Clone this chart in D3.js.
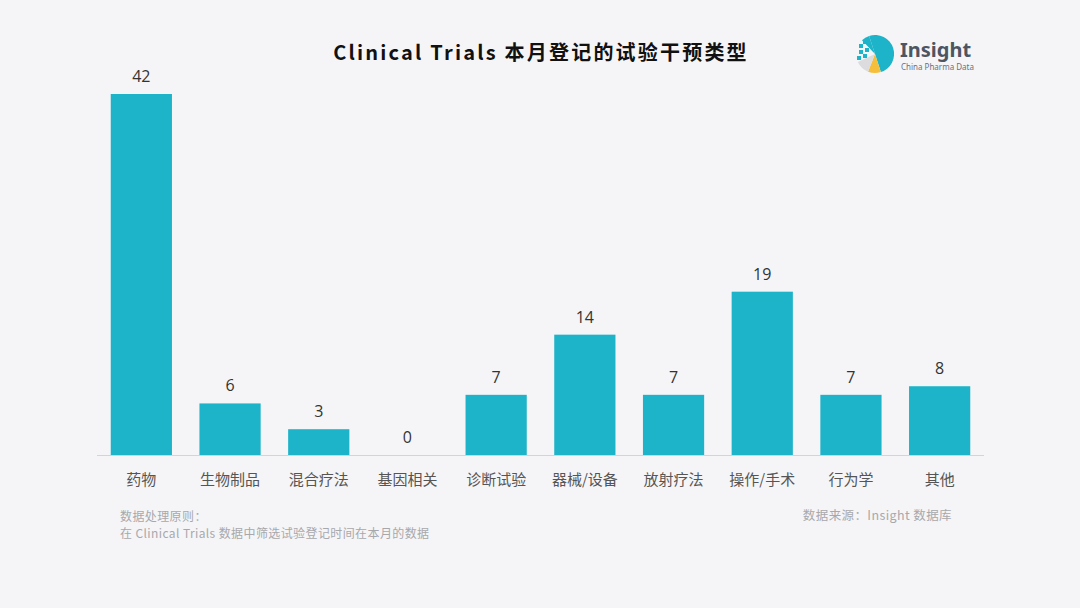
<!DOCTYPE html>
<html><head><meta charset="utf-8">
<script src="https://cdn.jsdelivr.net/npm/d3@7/dist/d3.min.js"></script>
<style>
html,body{margin:0;padding:0;background:#f5f5f7;}
svg{display:block;font-family:"Noto Sans CJK SC","Noto Sans",sans-serif;}
</style></head>
<body>
<svg id="chart" width="1080" height="608"></svg>
<script>
const categories = ["药物","生物制品","混合疗法","基因相关","诊断试验","器械/设备","放射疗法","操作/手术","行为学","其他"];
const values = [42,6,3,0,7,14,7,19,7,8];
const title = "Clinical Trials 本月登记的试验干预类型";
const noteLines = ["数据处理原则：","在 Clinical Trials 数据中筛选试验登记时间在本月的数据"];
const sourceText = "数据来源：Insight 数据库";

const svg = d3.select("#chart");
svg.append("rect").attr("width",1080).attr("height",608).attr("fill","#f5f5f7");

const x = d3.scaleBand().domain(categories).range([97,984]).paddingInner(0.31).paddingOuter(0.155);
const y = d3.scaleLinear().domain([0,42]).range([455,94]);

svg.append("text").attr("x",541).attr("y",60).attr("text-anchor","middle")
  .attr("font-size",20).attr("font-weight","bold").attr("fill","#111")
  .attr("letter-spacing","2.2px").text(title);

svg.selectAll("rect.bar").data(values).join("rect").attr("class","bar")
  .attr("x",(d,i)=>x(categories[i])).attr("width",x.bandwidth())
  .attr("y",d=>y(d)).attr("height",d=>y(0)-y(d)).attr("fill","#1db3c8");

svg.selectAll("text.val").data(values).join("text").attr("class","val")
  .attr("x",(d,i)=>x(categories[i])+x.bandwidth()/2).attr("y",d=>y(d)-12)
  .attr("text-anchor","middle").attr("font-size",16).attr("fill","#333")
  .attr("font-family","'Open Sans',sans-serif").text(d=>d);

const axis = svg.append("g").attr("transform","translate(0,455)")
  .call(d3.axisBottom(x).tickSize(0).tickPadding(19));
axis.select(".domain").attr("stroke","#d4d4d8").attr("d","M97,0.5H984");
axis.selectAll("text").attr("font-size",15).attr("fill","#555")
  .attr("font-family","'Noto Sans CJK SC',sans-serif");

const note = svg.append("text").attr("font-size",12).attr("fill","#a8a8ac").attr("letter-spacing","0.4px");
noteLines.forEach((t,i)=>note.append("tspan").attr("x",120).attr("y",521+i*17).text(t));
svg.append("text").attr("x",952).attr("y",520).attr("text-anchor","end")
  .attr("font-size",12.5).attr("fill","#a8a8ac").attr("letter-spacing","0.4px").text(sourceText);

// logo
const lg = svg.append("g").attr("transform","translate(875,54)");
const arc = d3.arc().innerRadius(0).outerRadius(19);
const tau = Math.PI*2;
lg.append("path").attr("d",arc({startAngle:-0.05*tau,endAngle:0.45*tau})).attr("fill","#1db3c8");
lg.append("path").attr("d",arc({startAngle:-0.12*tau,endAngle:-0.05*tau})).attr("fill","#1db3c8");
lg.append("path").attr("d",arc({startAngle:0.45*tau,endAngle:0.56*tau})).attr("fill","#f5bf3c");
lg.append("path").attr("d",arc({startAngle:0.56*tau,endAngle:0.68*tau})).attr("fill","#dcdcdf");
const px=[[-16,-10],[-12,-14],[-16,-4],[-10,-6],[-18,2],[-12,0]];
lg.selectAll("rect.px").data(px).join("rect").attr("class","px")
  .attr("x",d=>d[0]).attr("y",d=>d[1]).attr("width",4).attr("height",4).attr("fill","#1db3c8");
svg.append("text").attr("x",900).attr("y",57).attr("font-size",20).attr("font-weight","bold")
  .attr("fill","#4d5563").attr("font-family","'Noto Sans',sans-serif").text("Insight");
svg.append("text").attr("x",901).attr("y",70).attr("font-size",8).attr("fill","#6a7080")
  .attr("font-family","'Noto Sans',sans-serif").text("China Pharma Data");
</script>
</body></html>
